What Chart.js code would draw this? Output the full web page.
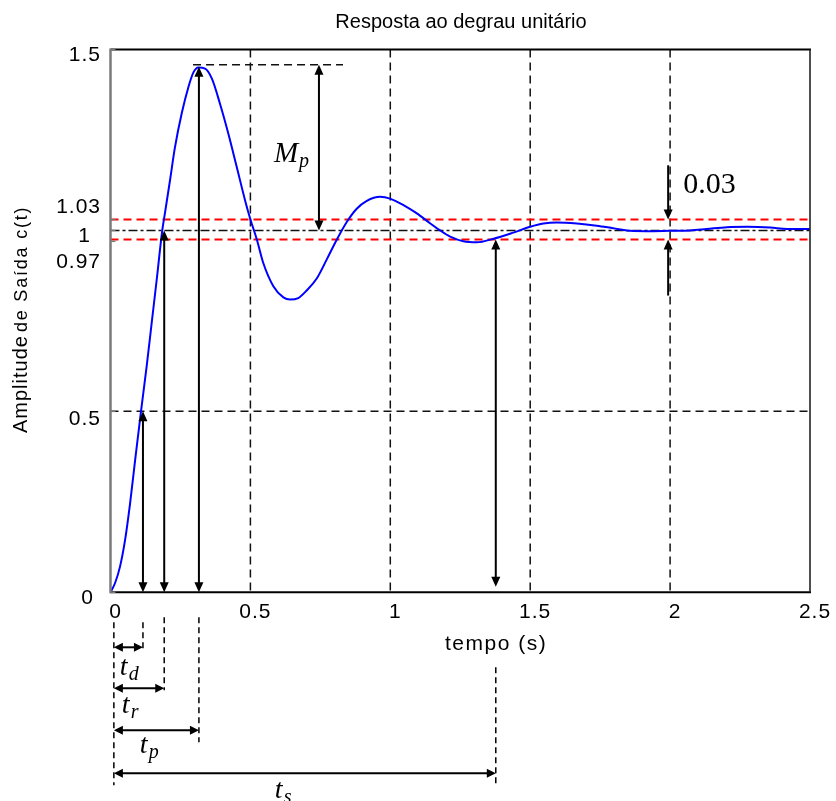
<!DOCTYPE html>
<html><head><meta charset="utf-8">
<script src="https://cdn.jsdelivr.net/npm/chart.js@4/dist/chart.umd.min.js"></script>
<style>html,body{margin:0;padding:0;background:#fff;}#wrap{width:836px;height:801px;}</style>
</head><body><div id="wrap"><canvas id="c" width="836" height="801"></canvas></div>
<script>
// ---------- data ----------
const timeS = [0, 0.016, 0.034, 0.052, 0.07, 0.088, 0.109, 0.129, 0.147, 0.165, 0.185, 0.195, 0.213, 0.23, 0.255, 0.278, 0.296, 0.314, 0.338, 0.362, 0.391, 0.421, 0.451, 0.481, 0.499, 0.523, 0.546, 0.582, 0.618, 0.642, 0.671, 0.701, 0.737, 0.773, 0.809, 0.845, 0.88, 0.916, 0.964, 0.999, 1.047, 1.095, 1.142, 1.178, 1.214, 1.261, 1.309, 1.369, 1.44, 1.5, 1.547, 1.595, 1.667, 1.738, 1.797, 1.857, 1.917, 2.0, 2.072, 2.131, 2.203, 2.275, 2.358, 2.418, 2.5];
const amplitude = [0, 0.025, 0.071, 0.144, 0.246, 0.365, 0.5, 0.623, 0.743, 0.863, 1.0, 1.05, 1.14, 1.228, 1.325, 1.395, 1.436, 1.45, 1.447, 1.42, 1.351, 1.268, 1.176, 1.083, 1.033, 0.975, 0.91, 0.846, 0.815, 0.809, 0.813, 0.834, 0.867, 0.92, 0.975, 1.024, 1.06, 1.082, 1.093, 1.088, 1.07, 1.047, 1.02, 1.0, 0.983, 0.97, 0.967, 0.977, 0.994, 1.01, 1.019, 1.022, 1.019, 1.013, 1.006, 0.999, 0.998, 0.999, 1.0, 1.004, 1.009, 1.01, 1.008, 1.004, 1.004];
const xTickValues = [0, 0.5, 1, 1.5, 2, 2.5];
const xTickLabels = ['0', '0.5', '1', '1.5', '2', '2.5'];
const yTickValues = [0, 0.5, 0.97, 1, 1.03, 1.5];
const yTickLabels = ['0', '0.5', '0.97', '1', '1.03', '1.5'];
const gridTimes = [0.5, 1, 1.5, 2];
const gridLevels = [0.5];
const finalValue = 1;
const bandLevels = [1.03, 0.975];
const markSubs = ['d', 'r', 'p', 's'];
const markTimes = [0.116, 0.192, 0.316, 1.377];
const markTops = [0.5, 1.0, 1.452, 0.975];
const markBottoms = [0, 0, 0, 0.015];
const startTime = 0.012;
const peakLevel = 1.458;
const peakLineFrom = 0.295, peakLineTo = 0.831;
const mpTime = 0.745;
const bandArrowTime = 1.993;
const bandArrowFrom = [1.18, 0.82];
const titleText = 'Resposta ao degrau unitário';
const xTitleText = 'tempo (s)';
const yTitleParts = ['Amplitude', 'de Saída c(t)'];
const bandText = '0.03';

// ---------- drawing helpers ----------
function seg(ctx, x1, y1, x2, y2) { ctx.beginPath(); ctx.moveTo(x1, y1); ctx.lineTo(x2, y2); ctx.stroke(); }
function head(ctx, x, y, dir, L = 10, W = 4.5) {
  ctx.beginPath();
  if (dir === 'up') { ctx.moveTo(x, y); ctx.lineTo(x - W, y + L); ctx.lineTo(x + W, y + L); }
  if (dir === 'down') { ctx.moveTo(x, y); ctx.lineTo(x - W, y - L); ctx.lineTo(x + W, y - L); }
  if (dir === 'left') { ctx.moveTo(x, y); ctx.lineTo(x + L, y - W); ctx.lineTo(x + L, y + W); }
  if (dir === 'right') { ctx.moveTo(x, y); ctx.lineTo(x - L, y - W); ctx.lineTo(x - L, y + W); }
  ctx.closePath(); ctx.fill();
}
function vArrow(ctx, x, yTop, yBot, topHead, botHead) {
  seg(ctx, x, yTop + (topHead ? 6 : 0), x, yBot - (botHead ? 6 : 0));
  if (topHead) head(ctx, x, yTop, 'up');
  if (botHead) head(ctx, x, yBot, 'down');
}
function hArrow(ctx, xl, xr, y) {
  seg(ctx, xl + 6, y, xr - 6, y);
  head(ctx, xl, y, 'left', 9, 4.5); head(ctx, xr, y, 'right', 9, 4.5);
}
function sub(ctx, main, s, x, y, big, small, dy) {
  ctx.font = 'italic ' + big + 'px "Liberation Serif"';
  ctx.fillText(main, x, y);
  const w = ctx.measureText(main).width;
  ctx.font = 'italic ' + small + 'px "Liberation Serif"';
  ctx.fillText(s, x + w + 1, y + dy);
}

const annot = {
  id: 'annot',
  beforeDraw(chart) { chart.ctx.letterSpacing = '1px'; },
  beforeDatasetsDraw(chart) {
    const { ctx, chartArea: a, scales: { x, y } } = chart;
    ctx.save();
    ctx.strokeStyle = '#111'; ctx.lineWidth = 1.5; ctx.setLineDash([8, 5]);
    gridTimes.forEach(t => { const px = x.getPixelForValue(t); seg(ctx, px, a.top, px, a.bottom); });
    gridLevels.forEach(v => { const py = y.getPixelForValue(v); seg(ctx, a.left, py, a.right, py); });
    const pk = y.getPixelForValue(peakLevel);
    seg(ctx, x.getPixelForValue(peakLineFrom), pk, x.getPixelForValue(peakLineTo), pk);
    ctx.setLineDash([9, 3, 3, 3]);
    const f = y.getPixelForValue(finalValue);
    seg(ctx, a.left, f, a.right, f);
    ctx.strokeStyle = '#ff0000'; ctx.lineWidth = 2; ctx.setLineDash([8, 5]);
    bandLevels.forEach(v => { const py = y.getPixelForValue(v); seg(ctx, a.left, py, a.right, py); });
    ctx.restore();
  },
  afterDatasetsDraw(chart) {
    const { ctx, chartArea: a, scales: { x, y } } = chart;
    ctx.save();
    ctx.strokeStyle = '#000'; ctx.fillStyle = '#000'; ctx.lineWidth = 2; ctx.setLineDash([]);
    markTimes.forEach((t, i) => {
      vArrow(ctx, x.getPixelForValue(t), y.getPixelForValue(markTops[i]), y.getPixelForValue(markBottoms[i]), true, true);
    });
    vArrow(ctx, x.getPixelForValue(mpTime), y.getPixelForValue(peakLevel), y.getPixelForValue(finalValue), true, true);
    const bx = x.getPixelForValue(bandArrowTime);
    vArrow(ctx, bx, y.getPixelForValue(bandArrowFrom[0]), y.getPixelForValue(bandLevels[0]), false, true);
    vArrow(ctx, bx, y.getPixelForValue(bandLevels[1]), y.getPixelForValue(bandArrowFrom[1]), true, false);
    // frame
    ctx.lineWidth = 2; ctx.strokeStyle = '#000';
    seg(ctx, a.left, a.top, a.right + 1, a.top);
    seg(ctx, a.left, a.bottom, a.right + 1, a.bottom);
    ctx.lineWidth = 1.6; ctx.strokeStyle = '#222';
    seg(ctx, a.right, a.top, a.right, a.bottom);
    ctx.lineWidth = 2.5; ctx.strokeStyle = '#7a7a7a';
    seg(ctx, a.left, a.top - 1, a.left, a.bottom + 1);
    ctx.lineWidth = 1.5;
    yTickValues.forEach(v => { const py = y.getPixelForValue(v); seg(ctx, a.left, py, a.left + 5, py); });
    ctx.restore();
  },
  afterDraw(chart) {
    const { ctx, chartArea: a, scales: { x, y } } = chart;
    ctx.save();
    ctx.fillStyle = '#000';
    // y tick labels (spread apart like the original)
    const nudgeY = { '0': 6, '0.5': 8, '0.97': 21, '1': 6, '1.03': -12, '1.5': 6 };
    const nudgeX = { '0': -7, '1': -10 };
    ctx.font = '21px "Liberation Sans"'; ctx.letterSpacing = '1px';
    ctx.textAlign = 'right'; ctx.textBaseline = 'middle';
    yTickValues.forEach((v, i) => {
      const l = yTickLabels[i];
      ctx.fillText(l, 101 + (nudgeX[l] || 0), y.getPixelForValue(v) + nudgeY[l]);
    });
    // title
    ctx.textBaseline = 'alphabetic'; ctx.textAlign = 'center';
    ctx.font = '20px "Liberation Sans"'; ctx.letterSpacing = '0px';
    ctx.fillText(titleText, 461, 28);
    // x title
    ctx.textAlign = 'left'; ctx.font = '21px "Liberation Sans"'; ctx.letterSpacing = '1.5px';
    ctx.fillText(xTitleText, 445, 650);
    // y title (rotated, two sizes)
    ctx.save();
    ctx.translate(27, 433); ctx.rotate(-Math.PI / 2);
    ctx.font = '20px "Liberation Sans"'; ctx.letterSpacing = '1px';
    ctx.fillText(yTitleParts[0], 0, 0);
    const w = ctx.measureText(yTitleParts[0]).width;
    ctx.font = '18px "Liberation Sans"'; ctx.letterSpacing = '1.8px';
    ctx.fillText(yTitleParts[1], w + 3, 0);
    ctx.restore();
    ctx.letterSpacing = '0px';
    // Mp and 0.03 labels
    const mx = x.getPixelForValue(mpTime), pk = y.getPixelForValue(peakLevel);
    sub(ctx, 'M', 'p', mx - 45, pk + 97, 29, 20, 5);
    ctx.font = '30px "Liberation Serif"';
    ctx.fillText(bandText, x.getPixelForValue(bandArrowTime) + 15, y.getPixelForValue(bandLevels[0]) - 27);
    // time markers below the axis
    const b = a.bottom, x0 = x.getPixelForValue(startTime);
    const rowY = [55, 96, 138, 181], dTop = [30, 25, 25, 75], dBot = [56, 98, 150, 193];
    const lDx = [6, 8, 26, 161], lDy = [83, 121, 161, 206];
    ctx.strokeStyle = '#000'; ctx.lineWidth = 1.5; ctx.setLineDash([6, 4]);
    seg(ctx, x0, b + 30, x0, b + 193);
    markTimes.forEach((t, i) => { const px = x.getPixelForValue(t); seg(ctx, px, b + dTop[i], px, b + dBot[i]); });
    ctx.setLineDash([]); ctx.lineWidth = 2;
    markTimes.forEach((t, i) => {
      const px = x.getPixelForValue(t);
      hArrow(ctx, x0, px, b + rowY[i]);
      sub(ctx, 't', markSubs[i], x0 + lDx[i], b + lDy[i], 28, 20, 5);
    });
    ctx.restore();
  }
};

new Chart(document.getElementById('c'), {
  type: 'line',
  data: {
    datasets: [{
      data: timeS.map((t, i) => ({ x: t, y: amplitude[i] })),
      borderColor: '#0000ff', borderWidth: 2, pointRadius: 0, fill: false,
      cubicInterpolationMode: 'monotone'
    }]
  },
  options: {
    responsive: false, animation: false, events: [],
    layout: { padding: { left: 0, right: 26, top: 49.5, bottom: 168.7 } },
    plugins: { legend: { display: false }, tooltip: { enabled: false }, title: { display: false } },
    scales: {
      x: {
        type: 'linear', min: 0, max: 2.5,
        afterBuildTicks: s => { s.ticks = xTickValues.map(v => ({ value: v })); },
        ticks: { labelOffset: 5, padding: 7, color: '#000', font: { family: 'Liberation Sans', size: 21 },
                 callback: (v, i) => xTickLabels[i] },
        grid: { display: false, drawTicks: false }, border: { display: false },
        afterFit: s => { s.height = 40; }
      },
      y: {
        type: 'linear', min: 0, max: 1.5,
        afterBuildTicks: s => { s.ticks = yTickValues.map(v => ({ value: v })); },
        ticks: { display: false },
        grid: { display: false, drawTicks: false }, border: { display: false },
        afterFit: s => { s.width = 110.5; }
      }
    }
  },
  plugins: [annot]
});
</script></body></html>
